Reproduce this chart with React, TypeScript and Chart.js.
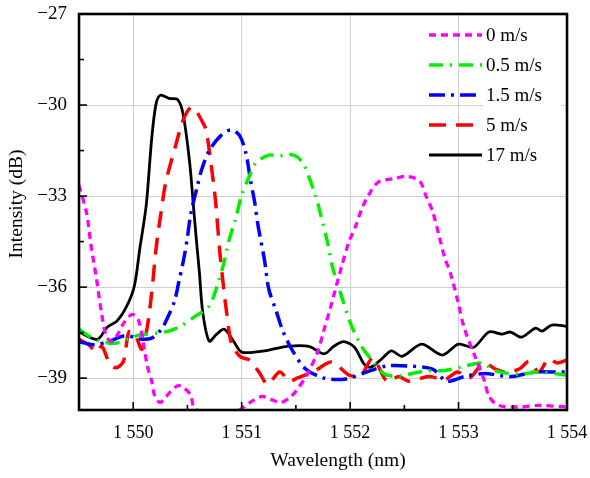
import React, { useEffect, useRef } from 'react';
import { Chart, registerables } from 'chart.js';

Chart.register(...registerables);

const seriesLabels = ['0 m/s', '0.5 m/s', '1.5 m/s', '5 m/s', '17 m/s'];
const xTicks = [1549.5, 1550, 1550.5, 1551, 1551.5, 1552, 1552.5, 1553, 1553.5, 1554];
const yTicks = [-39, -37.5, -36, -34.5, -33, -31.5, -30, -28.5, -27];

// 0 m/s
const wl0 = [1549.50, 1549.57, 1549.61, 1549.66, 1549.71, 1549.75, 1549.80, 1549.85, 1549.91, 1549.99, 1550.05, 1550.10, 1550.13, 1550.17, 1550.20, 1550.25, 1550.34, 1550.41, 1550.46, 1550.53, 1550.56, 1550.70, 1550.88, 1551.00, 1551.10, 1551.19, 1551.27, 1551.36, 1551.44, 1551.50, 1551.60, 1551.70, 1551.76, 1551.82, 1551.92, 1551.99, 1552.05, 1552.11, 1552.17, 1552.26, 1552.40, 1552.52, 1552.64, 1552.70, 1552.76, 1552.82, 1552.87, 1552.93, 1553.00, 1553.05, 1553.15, 1553.24, 1553.28, 1553.37, 1553.56, 1553.74, 1554.00];
const dB0 = [-32.64, -33.56, -34.6, -35.7, -36.9, -37.6, -37.8, -37.6, -37.2, -36.9, -37.1, -37.98, -38.6, -39.1, -39.6, -39.8, -39.46, -39.25, -39.3, -39.56, -39.95, -40.3, -40.3, -40.0, -39.75, -39.6, -39.7, -39.8, -39.65, -39.43, -38.9, -38.14, -37.4, -36.66, -35.34, -34.5, -34.0, -33.4, -32.97, -32.54, -32.43, -32.35, -32.5, -33.0, -33.5, -34.3, -35.0, -35.6, -36.56, -37.32, -38.27, -39.1, -39.6, -39.9, -39.95, -39.9, -39.95];

// 0.5 m/s
const wl05 = [1549.50, 1549.61, 1549.71, 1549.84, 1549.96, 1550.06, 1550.29, 1550.42, 1550.56, 1550.70, 1550.77, 1550.84, 1550.88, 1550.94, 1551.00, 1551.06, 1551.13, 1551.25, 1551.35, 1551.43, 1551.51, 1551.57, 1551.62, 1551.68, 1551.73, 1551.79, 1551.84, 1551.93, 1552.00, 1552.11, 1552.21, 1552.32, 1552.45, 1552.68, 1552.87, 1553.02, 1553.21, 1553.35, 1553.56, 1553.74, 1554.00];
const dB05 = [-37.39, -37.65, -37.8, -37.85, -37.7, -37.58, -37.48, -37.32, -36.99, -36.63, -36.0, -35.15, -34.5, -33.8, -32.97, -32.44, -31.91, -31.65, -31.68, -31.62, -31.7, -31.95, -32.37, -32.97, -33.63, -34.5, -35.37, -36.4, -37.16, -37.98, -38.44, -38.87, -38.93, -38.77, -38.75, -38.64, -38.5, -38.77, -38.87, -38.8, -38.9];

// 1.5 m/s
const wl15 = [1549.50, 1549.64, 1549.78, 1549.92, 1550.01, 1550.08, 1550.17, 1550.26, 1550.31, 1550.38, 1550.42, 1550.47, 1550.50, 1550.53, 1550.59, 1550.63, 1550.70, 1550.81, 1550.90, 1550.98, 1551.04, 1551.08, 1551.12, 1551.15, 1551.21, 1551.25, 1551.32, 1551.38, 1551.47, 1551.59, 1551.76, 1551.96, 1552.15, 1552.34, 1552.53, 1552.76, 1552.89, 1553.05, 1553.24, 1553.48, 1553.70, 1553.93, 1554.00];
const dB15 = [-37.8, -37.9, -37.78, -37.6, -37.65, -37.72, -37.68, -37.39, -37.06, -36.47, -35.84, -35.0, -34.35, -33.6, -32.7, -32.14, -31.5, -31.0, -30.82, -31.0, -31.6, -32.45, -33.2, -33.95, -35.1, -36.07, -36.8, -37.45, -38.1, -38.7, -39.0, -39.03, -38.8, -38.6, -38.6, -38.7, -39.1, -38.95, -38.85, -38.95, -38.8, -38.8, -38.78];

// 5 m/s
const wl5 = [1549.50, 1549.59, 1549.66, 1549.71, 1549.78, 1549.84, 1549.91, 1549.96, 1550.02, 1550.08, 1550.13, 1550.17, 1550.21, 1550.25, 1550.30, 1550.39, 1550.46, 1550.53, 1550.58, 1550.63, 1550.67, 1550.72, 1550.76, 1550.80, 1550.86, 1550.91, 1550.99, 1551.07, 1551.16, 1551.24, 1551.35, 1551.44, 1551.51, 1551.67, 1551.83, 1551.99, 1552.10, 1552.21, 1552.34, 1552.45, 1552.54, 1552.73, 1552.87, 1552.99, 1553.10, 1553.23, 1553.34, 1553.44, 1553.56, 1553.65, 1553.74, 1553.83, 1553.91, 1554.00];
const dB5 = [-37.72, -37.9, -38.14, -37.95, -38.5, -38.66, -38.45, -37.48, -37.6, -38.05, -37.3, -36.2, -34.75, -33.7, -32.55, -31.35, -30.5, -30.08, -30.2, -30.5, -30.8, -32.0, -33.2, -34.9, -36.8, -37.9, -38.3, -38.4, -38.8, -39.2, -38.8, -39.1, -39.0, -38.77, -38.47, -38.9, -38.9, -38.34, -39.1, -38.95, -39.1, -38.95, -39.05, -38.8, -39.0, -38.5, -38.7, -38.8, -38.7, -38.45, -38.8, -38.37, -38.5, -38.4];

// 17 m/s
const wl17 = [1549.50, 1549.67, 1549.76, 1549.85, 1549.94, 1550.01, 1550.06, 1550.12, 1550.17, 1550.21, 1550.25, 1550.33, 1550.41, 1550.46, 1550.52, 1550.56, 1550.59, 1550.61, 1550.64, 1550.70, 1550.77, 1550.84, 1550.93, 1551.00, 1551.21, 1551.42, 1551.62, 1551.76, 1551.85, 1551.94, 1552.04, 1552.13, 1552.19, 1552.29, 1552.38, 1552.48, 1552.66, 1552.85, 1553.00, 1553.14, 1553.28, 1553.40, 1553.48, 1553.58, 1553.71, 1553.77, 1553.86, 1554.00];
const dB17 = [-37.48, -37.72, -37.32, -37.12, -36.63, -35.97, -34.75, -33.3, -31.12, -29.97, -29.68, -29.78, -29.82, -30.3, -31.88, -33.53, -34.75, -35.5, -36.8, -37.78, -37.55, -37.39, -37.81, -38.14, -38.10, -37.95, -37.95, -38.2, -37.95, -37.8, -37.98, -38.54, -38.64, -38.37, -38.10, -38.28, -37.88, -38.24, -37.88, -37.98, -37.48, -37.55, -37.48, -37.65, -37.35, -37.45, -37.25, -37.29];

const seriesX = [wl0, wl05, wl15, wl5, wl17];
const seriesY = [dB0, dB05, dB15, dB5, dB17];
const colors = ['#ff00ff', '#00f000', '#0000ff', '#ff0000', '#000000'];
const dashes = [[7, 5], [14, 7, 2, 7], [16, 6, 3, 6], [17, 10], []];
const widths = [3.3, 3.5, 3.5, 3.5, 2.8];

const FONT = "'Liberation Serif', 'Times New Roman', serif";

const isMajorY = (v: number) => Math.abs(v % 3) < 1e-6;
const isMajorX = (v: number) => Math.abs(v - Math.round(v)) < 1e-6;

const fmtY = (v: number) => (v < 0 ? '\u2212' : '') + Math.abs(v);
const fmtX = (v: number) => {
  const s = String(Math.round(v));
  return s.slice(0, s.length - 3) + ' ' + s.slice(s.length - 3);
};

const framePlugin = {
  id: 'frameDeco',
  afterDraw(chart: any) {
    const { ctx, chartArea: a, scales } = chart;
    ctx.save();
    ctx.strokeStyle = '#000';
    ctx.lineWidth = 1.6;
    for (const v of yTicks) {
      const y = scales.y.getPixelForValue(v);
      ctx.beginPath();
      ctx.moveTo(a.left, y);
      ctx.lineTo(a.left + (isMajorY(v) ? 8 : 5), y);
      ctx.stroke();
    }
    for (const v of xTicks) {
      const x = scales.x.getPixelForValue(v);
      ctx.beginPath();
      ctx.moveTo(x, a.bottom);
      ctx.lineTo(x, a.bottom - (isMajorX(v) ? 8 : 5));
      ctx.stroke();
    }
    ctx.lineWidth = 2.6;
    ctx.strokeRect(a.left, a.top, a.right - a.left, a.bottom - a.top);

    // axis titles
    ctx.fillStyle = '#000';
    ctx.font = `19.5px ${FONT}`;
    ctx.textAlign = 'center';
    ctx.textBaseline = 'middle';
    ctx.fillText('Wavelength (nm)', 338, 461);
    ctx.save();
    ctx.translate(17, 204);
    ctx.rotate(-Math.PI / 2);
    ctx.fillText('Intensity (dB)', 0, 0);
    ctx.restore();

    // legend
    ctx.fillStyle = '#fff';
    ctx.fillRect(483, 22, 78, 146);
    ctx.font = `19px ${FONT}`;
    ctx.textAlign = 'left';
    seriesLabels.forEach((lab, i) => {
      const y = 35 + i * 30;
      ctx.save();
      ctx.strokeStyle = colors[i];
      ctx.lineWidth = widths[i];
      ctx.setLineDash(dashes[i]);
      ctx.beginPath();
      ctx.moveTo(429, y);
      ctx.lineTo(482, y);
      ctx.stroke();
      ctx.restore();
      ctx.fillStyle = '#000';
      ctx.fillText(lab, 486, y + 1);
    });
    ctx.restore();
  },
};

export default function App() {
  const ref = useRef<HTMLCanvasElement | null>(null);
  useEffect(() => {
    if (!ref.current) return;
    const datasets = seriesLabels.map((lab, i) => ({
      label: lab,
      data: seriesX[i].map((x, j) => ({ x, y: seriesY[i][j] })),
      borderColor: colors[i],
      backgroundColor: colors[i],
      borderWidth: widths[i],
      borderDash: dashes[i],
      pointRadius: 0,
      fill: false,
      tension: 0.3,
    }));
    const chart = new Chart(ref.current, {
      type: 'line',
      data: { datasets },
      options: {
        animation: false,
        responsive: false,
        devicePixelRatio: 1,
        layout: { padding: { top: 14, right: 23, left: 0, bottom: 0 } },
        plugins: { legend: { display: false }, tooltip: { enabled: false } },
        scales: {
          x: {
            type: 'linear',
            min: 1549.5,
            max: 1554,
            afterBuildTicks: (s: any) => {
              s.ticks = xTicks.map((v) => ({ value: v }));
            },
            afterFit: (s: any) => {
              s.height = 68;
              s.paddingLeft = 0;
              s.paddingRight = 0;
            },
            ticks: {
              autoSkip: false,
              maxRotation: 0,
              padding: 12,
              color: '#000',
              font: { family: FONT, size: 18 },
              callback: (v: any) => (isMajorX(Number(v)) ? fmtX(Number(v)) : ''),
            },
            grid: {
              drawTicks: false,
              color: (c: any) => (c.tick && isMajorX(c.tick.value) ? '#cfcfcf' : 'rgba(0,0,0,0)'),
              lineWidth: 1,
            },
            border: { display: false },
          },
          y: {
            type: 'linear',
            min: -40.05,
            max: -27,
            afterBuildTicks: (s: any) => {
              s.ticks = yTicks.map((v) => ({ value: v }));
            },
            afterFit: (s: any) => {
              s.width = 79;
              s.paddingTop = 0;
              s.paddingBottom = 0;
            },
            ticks: {
              autoSkip: false,
              padding: 12,
              color: '#000',
              font: { family: FONT, size: 19 },
              callback: (v: any) => (isMajorY(Number(v)) ? fmtY(Number(v)) : ''),
            },
            grid: {
              drawTicks: false,
              color: (c: any) => (c.tick && isMajorY(c.tick.value) ? '#cfcfcf' : 'rgba(0,0,0,0)'),
              lineWidth: 1,
            },
            border: { display: false },
          },
        },
      },
      plugins: [framePlugin],
    });
    return () => chart.destroy();
  }, []);
  return (
    <div style={{ position: 'fixed', left: 0, top: 0, width: 590, height: 478, background: '#fff' }}>
      <canvas ref={ref} width={590} height={478} style={{ display: 'block', width: 590, height: 478 }} />
    </div>
  );
}
